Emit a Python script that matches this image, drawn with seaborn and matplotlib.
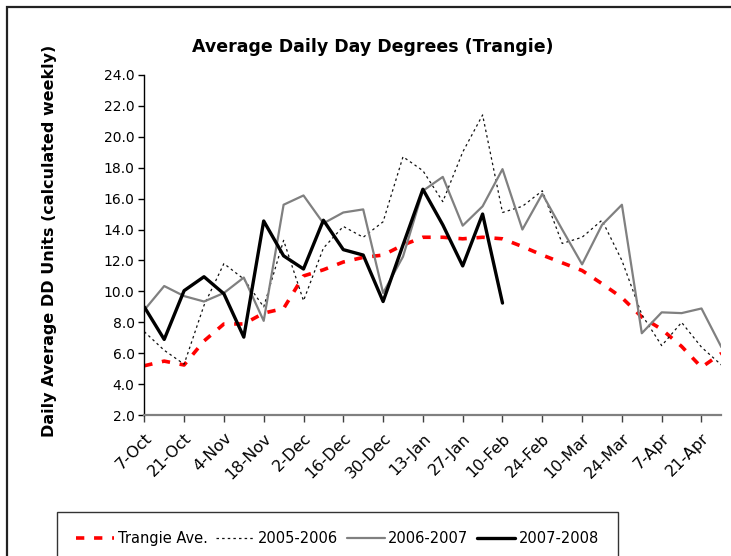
import matplotlib
matplotlib.use("Agg")
import matplotlib.pyplot as plt
import seaborn as sns
import pandas as pd
from matplotlib.patches import Rectangle

# weekly categories, 7-Oct to 28-Apr
weeks = ['7-Oct', '14-Oct', '21-Oct', '28-Oct', '4-Nov', '11-Nov', '18-Nov', '25-Nov',
         '2-Dec', '9-Dec', '16-Dec', '23-Dec', '30-Dec', '6-Jan', '13-Jan', '20-Jan',
         '27-Jan', '3-Feb', '10-Feb', '17-Feb', '24-Feb', '3-Mar', '10-Mar', '17-Mar',
         '24-Mar', '31-Mar', '7-Apr', '14-Apr', '21-Apr', '28-Apr']

trangie_ave = [5.2, 5.5, 5.25, 6.8, 7.9, 7.9, 8.6, 8.9, 11.0, 11.4, 11.9, 12.2, 12.35, 13.0, 13.5,
               13.5, 13.4, 13.5, 13.4, 12.9, 12.35, 11.85, 11.35, 10.5, 9.6, 8.35, 7.55, 6.45, 5.1, 6.0]
s2005_2006 = [7.4, 6.2, 5.3, 9.1, 11.8, 10.8, 9.0, 13.3, 9.4, 12.8, 14.2, 13.5, 14.5, 18.7, 17.8,
              15.8, 19.0, 21.4, 15.1, 15.5, 16.5, 13.1, 13.5, 14.6, 12.0, 8.5, 6.5, 8.0, 6.4, 5.25]
s2006_2007 = [8.8, 10.35, 9.7, 9.35, 9.9, 10.9, 8.1, 15.6, 16.2, 14.4, 15.1, 15.3, 9.9, 12.25, 16.5,
              17.4, 14.25, 15.5, 17.9, 14.0, 16.3, 14.0, 11.75, 14.3, 15.6, 7.3, 8.65, 8.6, 8.9, 6.4]
s2007_2008 = [9.0, 6.9, 10.05, 10.95, 9.85, 7.05, 14.55, 12.3, 11.45, 14.6, 12.7, 12.35, 9.35, 13.0,
              16.6, 14.3, 11.65, 15.0, 9.25]

sns.set_style("white")
plt.rcParams['font.family'] = ['DejaVu Sans']
plt.rcParams['text.color'] = 'black'
plt.rcParams['xtick.labelcolor'] = 'black'
plt.rcParams['ytick.labelcolor'] = 'black'

fig = plt.figure(figsize=(7.31, 5.56), dpi=100)
ax = fig.add_axes([144.3 / 731, 1 - 415.3 / 556, (721.4 - 144.3) / 731, (415.3 - 74.7) / 556])

x_all = list(range(len(weeks)))

sns.lineplot(x=x_all, y=trangie_ave, ax=ax, color='#ff0000', linewidth=2.6,
             linestyle=(0, (2.3, 2.7)), label='Trangie Ave.')
sns.lineplot(x=x_all, y=s2005_2006, ax=ax, color='#111111', linewidth=0.9,
             linestyle=(0, (2, 2.5)), label='2005-2006')
sns.lineplot(x=x_all, y=s2006_2007, ax=ax, color='#808080', linewidth=1.6, label='2006-2007')
sns.lineplot(x=x_all[:len(s2007_2008)], y=s2007_2008, ax=ax, color='black', linewidth=2.4,
             label='2007-2008')

ax.set_xlim(0, len(weeks) - 1)
ax.set_ylim(2, 24)
ax.set_yticks(range(2, 25, 2))
ax.set_yticklabels([f"{v:.1f}" for v in range(2, 25, 2)], fontsize=10)
ax.set_xticks(x_all[::2])
ax.set_xticklabels(weeks[::2], rotation=45, ha='right', rotation_mode='anchor', fontsize=11.5)
ax.set_xlabel("")
ax.set_ylabel("")

for side in ['top', 'right']:
    ax.spines[side].set_visible(False)
ax.spines['left'].set_color('black')
ax.spines['left'].set_linewidth(1.0)
ax.spines['bottom'].set_color('#808080')
ax.spines['bottom'].set_linewidth(1.6)
ax.tick_params(axis='y', direction='out', length=4, width=1, color='black', labelcolor='black',
               pad=3, left=True)
ax.tick_params(axis='x', direction='out', length=5, width=1, color='#404040', labelcolor='black',
               pad=6, bottom=True)

# title and y label
fig.text(373 / 731, 1 - 46.5 / 556, "Average Daily Day Degrees (Trangie)", ha='center',
         va='center', fontsize=12.5, fontweight='bold', color='black')
fig.text(50 / 731, 1 - 241 / 556, "Daily Average DD Units (calculated weekly)", ha='center',
         va='center', rotation=90, fontsize=11.5, fontweight='bold', color='black')

# legend at the bottom
handles, labels = ax.get_legend_handles_labels()
ax.get_legend().remove()
leg = fig.legend(handles, labels, loc='upper left', bbox_to_anchor=(57 / 731, 1 - 512 / 556),
                 ncol=4, fontsize=10.5, frameon=True, fancybox=False, borderaxespad=0,
                 handlelength=2.6, handletextpad=0.25, columnspacing=0.6, borderpad=1.3)
leg.get_frame().set_edgecolor('black')
leg.get_frame().set_linewidth(1.0)
for t in leg.get_texts():
    t.set_color('black')

# outer chart border
fig.add_artist(Rectangle((7 / 731, -0.2), 1.2, 1.2 - 7 / 556, transform=fig.transFigure,
                         fill=False, edgecolor='#222222', linewidth=1.6))

fig.savefig("out.png", dpi=100)
